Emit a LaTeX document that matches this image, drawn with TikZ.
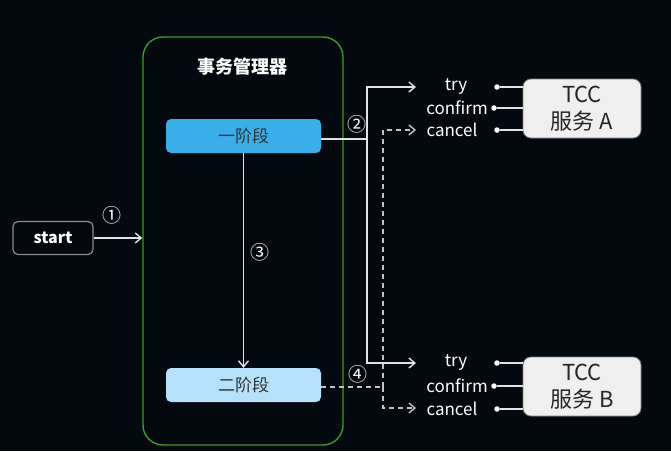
\documentclass[tikz,border=0pt]{standalone}
\usepackage{fontspec}
\setmainfont{Noto Sans CJK SC}
\usetikzlibrary{arrows.meta,positioning}
\definecolor{bg}{HTML}{04080F}
\definecolor{mgrgreen}{HTML}{3C9B2B}
\definecolor{phaseone}{HTML}{3AAEEA}
\definecolor{phasetwo}{HTML}{B5E1FB}
\definecolor{wire}{HTML}{E2E2E2}
\definecolor{dashwire}{HTML}{C4C4C4}
\definecolor{tccfill}{HTML}{EFEFEF}

\begin{document}
\begin{tikzpicture}[x=1pt,y=-1pt,
  every node/.style={inner sep=0pt},
  startbox/.style={draw=gray!90,line width=1.2pt,rounded corners=5pt,fill=bg,
    minimum width=80pt,minimum height=33pt,text=white,font=\fontsize{16}{18}\selectfont\bfseries},
  mgrbox/.style={draw=mgrgreen,line width=1.4pt,rounded corners=20pt,
    minimum width=200pt,minimum height=408pt},
  phase/.style={rounded corners=5pt,minimum width=155pt,minimum height=34pt,
    text=black!80,font=\fontsize{17}{19}\selectfont},
  tccbox/.style={draw=gray,line width=0.8pt,fill=tccfill,rounded corners=8pt,
    minimum width=118pt,minimum height=59pt,align=center,text=black!85,
    font=\fontsize{22}{27}\selectfont},
  op/.style={text=white,font=\fontsize{17}{19}\selectfont},
  step no/.style={text=white,font=\fontsize{19}{21}\selectfont},
  dot/.style={circle,fill=white,minimum size=5.5pt},
  link/.style={draw=wire,line width=1.4pt},
  arr/.style={link,-{Straight Barb[length=6pt,width=10pt]}},
  dashlink/.style={draw=dashwire,line width=1.4pt,dash pattern=on 5pt off 4pt},
  dasharr/.style={dashlink,-{Straight Barb[length=6pt,width=10pt]}}]
\fill[bg] (0,0) rectangle (671,451);
\useasboundingbox (0,0) rectangle (671,451);

% transaction manager
\node[mgrbox] (mgr) at (243,241) {};
\node[text=white,font=\fontsize{18}{20}\selectfont\bfseries] (title) at (242,67) {事务管理器};
\node[phase,fill=phaseone] (p1) at (243.5,136) {一阶段};
\node[phase,fill=phasetwo] (p2) at (243.5,385) {二阶段};
\node[startbox] (start) at (53,238) {start};

% TCC services
\foreach \svc/\y in {A/108.5,B/386.5}{
  \node[tccbox] (tcc\svc) at (582,\y) {TCC\\服务 \svc};
}
\node[op] (tryA) at (456,87) {try};
\node[op] (confirmA) at (457,108) {confirm};
\node[op] (cancelA) at (452,130) {cancel};
\node[op] (tryB) at (456,363) {try};
\node[op] (confirmB) at (457,386) {confirm};
\node[op] (cancelB) at (452,409) {cancel};
\foreach \svc/\a/\b/\c in {A/87/108/130,B/363/386/409}{
  \node[dot] (dtry\svc) at (497,\a) {};
  \node[dot] (dconfirm\svc) at (494,\b) {};
  \node[dot] (dcancel\svc) at (497,\c) {};
  \draw[link] (dtry\svc) -- (dtry\svc -| tcc\svc.west);
  \draw[link] (dconfirm\svc) -- (dconfirm\svc -| tcc\svc.west);
  \draw[link] (dcancel\svc) -- (dcancel\svc -| tcc\svc.west);
}

% arrow ends and junctions
\coordinate (intryA) at (416,87);
\coordinate (intryB) at (416,363);
\coordinate (incancelA) at (416,130);
\coordinate (incancelB) at (416,408);
\coordinate (j1) at (367,139);
\coordinate (j2) at (383,387);

\draw[arr] (start.east) -- (start.east -| mgr.west);
\draw[arr] (p1.south) -- (p2.north);
\draw[link] (p1.east |- j1) -- (j1);
\draw[arr] (j1) |- (intryA);
\draw[arr] (j1) |- (intryB);
\draw[dashlink] (p2.east |- j2) -- (j2);
\draw[dasharr] (j2) |- (incancelA);
\draw[dasharr] (j2) |- (incancelB);

\node[step no] (s1) at (112,215) {①};
\node[step no] (s2) at (357,124) {②};
\node[step no] (s3) at (260,252) {③};
\node[step no] (s4) at (358,374) {④};
\end{tikzpicture}
\end{document}
